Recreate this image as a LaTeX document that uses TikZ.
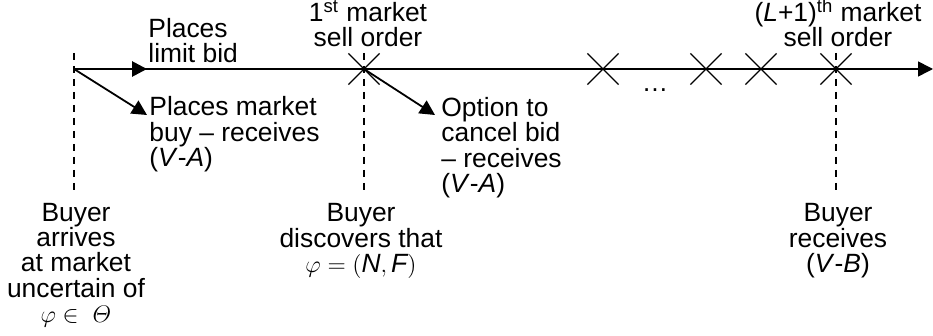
\documentclass[tikz,border=0pt]{standalone}
\usepackage{amsmath,amssymb}
\usepackage{fontspec}
\setmainfont{Liberation Sans}
\usetikzlibrary{arrows.meta,positioning,shapes.misc}

\begin{document}
\begin{tikzpicture}[x=0.5pt,y=-0.5pt,
  font=\fontsize{13.2}{12.75}\selectfont,
  tip/.style={-{Triangle[length=7.5pt,width=7.5pt]}},
  sale/.style={draw,cross out,minimum size=15pt,inner sep=0pt,line width=0.6pt},
  guide/.style={dash pattern=on 3.5pt off 3pt,line width=0.7pt},
  lbl/.style={inner sep=0pt,anchor=base west,align=left},
  evt/.style={inner sep=0pt,anchor=base,align=center}]
  \useasboundingbox (0,0) rectangle (933,336);
  % Time line
  \coordinate (t0) at (74,69);
  \coordinate (tend) at (933,69);
  \draw[line width=0.8pt,tip] (t0) -- (tend);
  % Market sell orders
  \node[sale] (s1) at (364,69) {};
  \node[sale] (s2) at (603,69) {};
  \node[sale] (s3) at (706,69) {};
  \node[sale] (s4) at (761,69) {};
  \node[sale] (s5) at (836,69) {};
  \node[inner sep=0pt,anchor=base] (dots) at (655,92) {\ldots};
  % Buyer's choices
  \coordinate (bid) at (147,69);
  \coordinate (buy) at (147,115);
  \coordinate (cancel) at (435,115);
  \draw[line width=1.4pt,tip] (t0) -- (bid);
  \draw[line width=0.9pt,tip] (t0) -- (buy);
  \draw[line width=0.9pt,tip] (s1.center) -- (cancel);
  % Dashed markers
  \foreach \n/\x in {0/74,1/364,5/836} {
    \coordinate (top\n) at (\x,53);
    \coordinate (bot\n) at (\x,196);
    \draw[guide] (top\n) -- (bot\n);
  }
  % Labels (anchored at the baseline of the last line)
  \node[lbl] (limit) at (148,63) {Places\\limit bid};
  \node[lbl] (market) at (149,167) {Places market\\buy -- receives\\(\textit{V}-\textit{A})};
  \node[lbl] (option) at (441,193) {Option to\\cancel bid\\-- receives\\(\textit{V}-\textit{A})};
  \node[evt] (first) at (368,47) {1\textsuperscript{st} market\\sell order};
  \node[evt] (last) at (838,47) {(\textit{L}+1)\textsuperscript{th} market\\sell order};
  \node[evt] (arrive) at (76,323) {Buyer\\arrives\\at market\\uncertain of\\$\varphi\in\ \varTheta$};
  \node[evt] (discover) at (361,273) {Buyer\\discovers that\\$\varphi=(\mathit{N},\mathit{F})$};
  \node[evt] (receive) at (838,273) {Buyer\\receives\\(\textit{V}-\textit{B})};
\end{tikzpicture}
\end{document}
